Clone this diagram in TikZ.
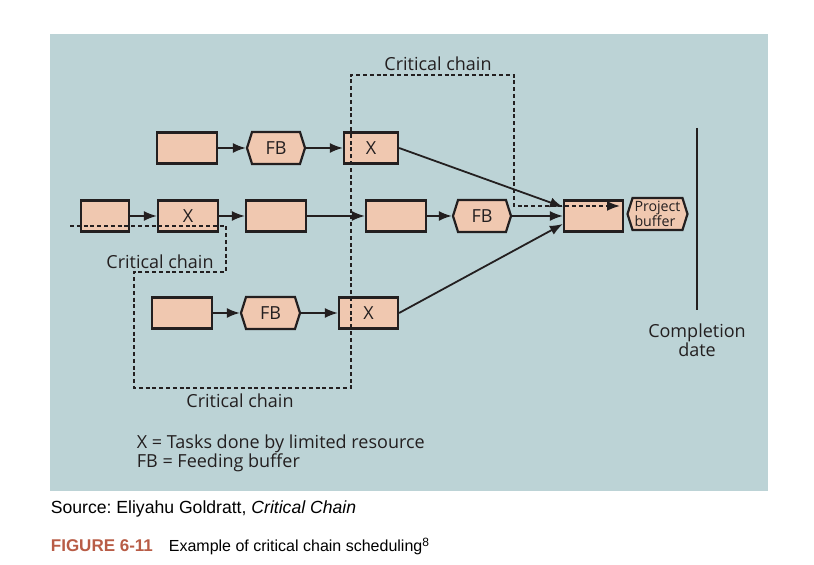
\documentclass[tikz,border=0pt]{standalone}
\usepackage{fontspec}
\setmainfont{Open Sans}
\newfontfamily\srcfont{Liberation Sans}
\usetikzlibrary{shapes.symbols,arrows.meta}
\definecolor{panel}{RGB}{188,211,214}
\definecolor{taskfill}{RGB}{240,200,176}
\definecolor{figred}{RGB}{184,92,70}
\definecolor{ink}{RGB}{35,31,32}
\tikzset{
every picture/.style={
line width=0.9pt
}}
\frenchspacing

\begin{document}
\begin{tikzpicture}[x=0.5pt, y=-0.5pt, >={Latex[length=6.5pt,width=5pt]},
task/.style = {rectangle, draw=ink, line width=1.1pt, fill=taskfill, minimum height=15.5pt, inner sep=0pt, text=ink, font=\fontsize{9}{10}\selectfont},
buffer/.style = {signal, signal to=west and east, signal pointer angle=145, draw=ink, line width=1.1pt, fill=taskfill, minimum height=16pt, inner sep=0pt, text=ink, font=\fontsize{9}{10}\selectfont},
link/.style = {ink, ->},
chain/.style = {ink, dash pattern=on 2pt off 1.4pt, ->},
chainlabel/.style = {text=ink, inner sep=0pt, font=\fontsize{9}{9.5}\selectfont}]
\useasboundingbox (0,0) rectangle (814,565);
\fill[panel] (50,34) rectangle (768,491);

% top feeding chain
\node[task, minimum width=30pt] (t1) at (187,148) {};
\node[buffer, minimum width=29pt] (tfb) at (276,148) {FB};
\node[task, minimum width=27pt] (tx) at (371,148) {X};

% main chain
\node[task, minimum width=24pt] (m1) at (105,216) {};
\node[task, minimum width=30pt] (mx) at (188,216) {X};
\node[task, minimum width=30pt] (m2) at (276,216) {};
\node[task, minimum width=30pt] (m3) at (396,216) {};
\node[buffer, minimum width=29pt] (mfb) at (482,216) {FB};
\node[task, minimum width=29.5pt] (mend) at (593.5,216) {};
\node[buffer, minimum width=30pt, align=left, font=\fontsize{7.1}{7.4}\selectfont] (pb) at (657.5,214) {Project\\buffer};

% bottom feeding chain
\node[task, minimum width=30pt] (b1) at (182,313) {};
\node[buffer, minimum width=29.5pt] (bfb) at (270.5,313) {FB};
\node[task, minimum width=29.5pt] (bx) at (368.5,313) {X};

\draw[link] (t1) -- (tfb);
\draw[link] (tfb) -- (tx);
\draw[link] (m1) -- (mx);
\draw[link] (mx) -- (m2);
\draw[link] (m2) -- (m3);
\draw[link] (m3) -- (mfb);
\draw[link] (b1) -- (bfb);
\draw[link] (bfb) -- (bx);
\draw[link] (tx.east) -- ([yshift=4.5pt]mend.west);
\draw[link] (mfb) -- (mend);
\draw[link] (bx.east) -- ([yshift=-4pt]mend.west);

% critical chain
\draw[chain] (70,226) -- (226,226) -- (226,272) -- (134,272) -- (134,388)
  -- (351,388) -- (351,75) -- (514,75) -- (514,206) -- (620,206);
\node[chainlabel, anchor=base] (cc1) at (438,71) {Critical chain};
\node[chainlabel, anchor=base] (cc2) at (160,269) {Critical chain};
\node[chainlabel, anchor=base] (cc3) at (240,408) {Critical chain};

% completion date
\draw[ink, line width=0.8pt] (697,128) -- (697,310);
\node[chainlabel, align=center, anchor=base] (cd) at (697,357) {Completion\\date};

\node[chainlabel, align=left, anchor=base west] (key) at (136,468) {X = Tasks done by limited resource\\FB = Feeding buffer};

\node[anchor=base west, inner sep=0pt, font=\srcfont\fontsize{8.8}{10}\selectfont] (src) at (50,514) {Source: Eliyahu Goldratt, \textit{Critical Chain}};
\node[anchor=base west, inner sep=0pt, text=figred, font=\srcfont\bfseries\fontsize{8.5}{10}\selectfont] (fig) at (50,552) {FIGURE 6-11};
\node[anchor=base west, inner sep=0pt, font=\srcfont\fontsize{8}{10}\selectfont] (cap) at (168,552) {Example of critical chain scheduling\textsuperscript{8}};
\end{tikzpicture}
\end{document}
